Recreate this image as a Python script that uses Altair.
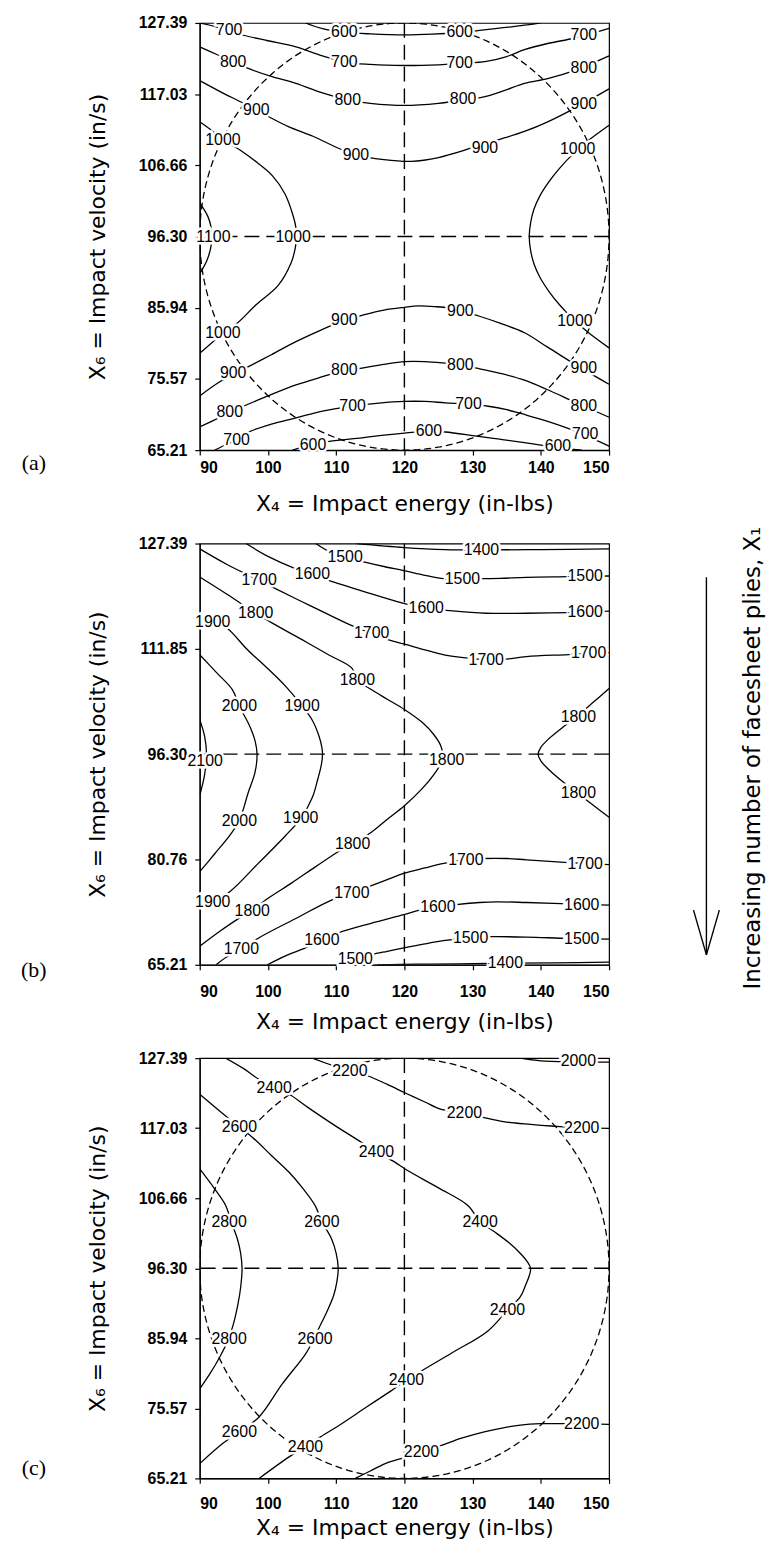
import altair as alt
import numpy as np
import pandas as pd

# ---------------- axes ----------------
X_DOMAIN = [90, 150]
Y_DOMAIN = [65.21, 127.39]
X_TICKS = [90, 100, 110, 120, 130, 140, 150]
Y_TICKS_AC = [65.21, 75.57, 85.94, 96.30, 106.66, 117.03, 127.39]
Y_TICKS_B = [65.21, 80.76, 96.30, 111.85, 127.39]
CENTER_X = 120.0
CENTER_Y = 96.30
CIRCLE_RX = 30.0
CIRCLE_RY = 31.09

X_TITLE = "X\u2084 = Impact energy (in-lbs)"
Y_TITLE = "X\u2086 = Impact velocity (in/s)"
SIDE_TITLE = "Increasing number of facesheet plies, X\u2081"

# ---------------- panel (a) contours ----------------
A_600_TOP = [(105.5, 127.39), (108.0, 126.55), (111.2, 126.05), (115.0, 125.8), (120.0, 125.65), (124.0, 125.75),
             (128.0, 126.0), (131.0, 126.3), (134.5, 126.7), (138.0, 127.1), (140.0, 127.39)]
A_700_TOP = [(90.0, 127.39), (92.5, 126.8), (94.3, 126.3), (96.4, 125.6), (100.0, 124.8), (104.1, 123.9),
             (108.0, 122.6), (111.2, 121.7), (115.0, 121.35), (120.0, 121.2), (125.0, 121.3), (128.5, 121.5),
             (132.0, 121.8), (135.0, 122.5), (137.6, 123.5), (141.0, 124.4), (145.0, 125.2), (150.0, 126.6)]
A_800_TOP = [(90.0, 123.9), (92.5, 122.8), (94.9, 121.7), (97.3, 120.7), (100.5, 119.6), (104.1, 118.6),
             (108.0, 117.2), (111.7, 116.2), (115.0, 115.7), (120.0, 115.4), (125.0, 115.7), (128.6, 116.2),
             (131.5, 116.6), (134.5, 117.5), (137.6, 118.6), (141.0, 119.3), (145.0, 120.5), (150.0, 122.6)]
A_900_TOP = [(90.0, 119.0), (93.0, 117.4), (96.4, 115.7), (98.3, 114.7), (100.2, 113.7), (103.0, 112.3),
             (106.6, 110.9), (110.0, 109.3), (112.9, 108.2), (117.0, 107.5), (121.0, 107.25), (125.0, 107.8),
             (129.9, 109.2), (133.5, 110.3), (137.6, 111.6), (141.0, 113.0), (145.0, 115.0), (150.0, 117.8)]
A_1000_LEFT = [(90.0, 113.0), (91.8, 111.7), (93.4, 110.4), (95.9, 108.9), (98.5, 107.0), (100.7, 105.1),
               (102.5, 102.5), (103.7, 99.3), (104.1, 97.6), (104.2, 96.3), (104.0, 94.6), (103.4, 92.5),
               (101.5, 89.2), (98.3, 86.4), (95.4, 83.6), (93.4, 82.2), (90.0, 79.3)]
A_1000_RIGHT = [(150.0, 112.5), (147.0, 110.3), (144.7, 108.3), (142.8, 106.3), (141.2, 104.3), (139.9, 102.3),
                (139.0, 100.3), (138.5, 98.3), (138.3, 96.3), (138.5, 94.3), (139.0, 92.3), (139.9, 90.3),
                (141.2, 88.3), (142.8, 86.3), (144.7, 84.3), (147.0, 82.3), (150.0, 80.1)]
A_1100 = [(90.0, 101.2), (91.2, 99.2), (91.7, 97.5), (91.8, 96.3), (91.6, 94.6), (91.0, 92.7), (90.0, 90.9)]
A_900_BOT = [(90.0, 73.1), (93.0, 75.2), (97.0, 77.3), (100.5, 79.1), (104.1, 81.0), (108.0, 82.8), (111.2, 84.1),
             (114.0, 84.9), (117.0, 85.6), (120.0, 86.0), (122.0, 86.2), (124.5, 86.1), (126.5, 85.9),
             (128.5, 85.4), (131.0, 84.7), (134.0, 83.7), (137.6, 82.3), (141.0, 80.2), (145.0, 77.7),
             (150.0, 74.8)]
A_800_BOT = [(90.0, 68.6), (93.0, 70.0), (96.4, 71.6), (100.0, 73.1), (104.1, 74.7), (108.0, 75.9), (111.2, 76.8),
             (114.0, 77.2), (117.0, 77.7), (120.0, 78.1), (123.0, 78.1), (125.6, 77.9), (128.2, 77.6),
             (130.8, 77.1), (134.0, 76.4), (137.6, 75.4), (141.0, 74.0), (145.0, 72.2), (150.0, 70.0)]
A_700_BOT = [(92.2, 65.21), (94.0, 66.1), (95.4, 66.75), (97.3, 67.9), (100.5, 69.0), (104.1, 69.9), (108.0, 70.9),
             (112.4, 71.6), (116.3, 72.05), (120.0, 72.3), (123.0, 72.3), (126.0, 72.1), (129.5, 71.9),
             (132.3, 71.6), (135.0, 71.1), (137.6, 70.4), (141.0, 69.4), (145.0, 68.0), (148.0, 66.7),
             (150.0, 65.8)]
A_600_BOT = [(103.6, 65.21), (105.0, 65.6), (106.6, 66.0), (109.0, 66.5), (113.8, 67.0), (117.0, 67.4),
             (120.0, 67.7), (123.6, 67.95), (126.0, 67.85), (130.3, 67.3), (134.0, 66.8), (137.6, 66.3),
             (141.0, 65.8), (144.0, 65.4), (146.0, 65.21)]

A_LABELS = [("700", 94.3, 126.3), ("600", 111.2, 126.05), ("600", 128.1, 126.1), ("700", 146.3, 125.6),
            ("800", 94.9, 121.7), ("700", 111.2, 121.7), ("700", 128.1, 121.55), ("800", 146.3, 120.9),
            ("900", 98.3, 114.7), ("800", 111.7, 116.2), ("800", 128.6, 116.3), ("900", 146.3, 115.6),
            ("1000", 93.4, 110.4), ("900", 112.9, 108.2), ("900", 131.8, 109.2), ("1000", 145.4, 109.0),
            ("1100", 92.0, 96.3), ("1000", 103.7, 96.3),
            ("1000", 93.4, 82.2), ("1000", 145.0, 84.0),
            ("900", 94.9, 76.4), ("900", 111.2, 84.1), ("900", 128.2, 85.4), ("900", 146.3, 77.1),
            ("800", 94.4, 70.7), ("800", 111.2, 76.9), ("800", 128.2, 77.6), ("800", 146.3, 71.7),
            ("700", 95.4, 66.75), ("700", 112.4, 71.6), ("700", 129.4, 71.9), ("700", 146.5, 67.6),
            ("600", 106.6, 66.0), ("600", 123.6, 67.95), ("600", 142.5, 65.8)]

# ---------------- panel (b) contours ----------------
B_1400_TOP = [(113.0, 127.39), (120.0, 126.8), (126.0, 126.5), (131.3, 126.45), (140.0, 126.5), (150.0, 126.6)]
B_1500_TOP = [(107.0, 127.39), (109.0, 126.2), (111.3, 125.4), (114.2, 124.65), (117.0, 124.0), (119.9, 123.4),
              (123.0, 122.7), (125.8, 122.2), (128.5, 122.2), (131.0, 122.2), (134.0, 122.25), (137.9, 122.4),
              (144.0, 122.5), (150.0, 122.6)]
B_1600_TOP = [(96.8, 127.39), (100.0, 125.5), (104.0, 123.7), (106.5, 122.85), (108.9, 121.96), (114.2, 120.26),
              (119.9, 118.54), (123.2, 117.8), (125.8, 117.55), (132.0, 117.1), (137.9, 117.1), (144.0, 117.2),
              (150.0, 117.4)]
B_1700_TOP = [(90.0, 126.6), (94.0, 124.3), (98.7, 121.96), (101.1, 120.74), (105.0, 118.8), (108.9, 116.9),
              (112.7, 115.1), (115.2, 114.15), (117.6, 113.2), (119.9, 112.58), (123.0, 111.7), (125.8, 110.97),
              (129.0, 110.5), (132.0, 110.24), (134.6, 110.3), (137.9, 110.7), (144.0, 111.0), (150.0, 111.3)]
B_1800_LEFT = [(90.0, 122.45), (94.0, 119.9), (98.2, 117.1), (100.7, 115.6), (105.0, 113.2), (109.0, 110.9),
               (112.3, 109.0), (113.1, 107.3), (115.2, 105.8), (117.5, 104.4), (120.0, 102.9), (122.6, 101.0),
               (124.3, 99.2), (125.3, 97.6), (125.6, 96.3), (125.3, 94.9), (124.4, 93.4), (122.5, 91.1),
               (120.0, 88.7), (117.5, 86.7), (115.2, 84.8), (112.5, 83.1), (110.3, 81.9), (107.0, 79.7),
               (103.5, 77.3), (99.7, 74.8), (97.7, 73.2), (95.8, 72.1), (93.0, 70.2), (90.0, 67.95)]
B_1800_RIGHT = [(150.0, 106.0), (147.5, 103.8), (145.3, 101.9), (143.0, 100.1), (141.2, 98.6), (140.0, 97.3),
                (139.6, 96.3), (140.0, 95.3), (141.2, 94.0), (143.0, 92.4), (145.3, 90.6), (147.5, 88.9),
                (150.0, 87.0)]
B_1900 = [(90.0, 116.6), (91.9, 115.9), (93.9, 115.0), (97.0, 111.7), (100.0, 108.9), (102.6, 106.3),
          (105.0, 103.4), (106.5, 101.3), (107.5, 98.9), (107.9, 97.3), (108.0, 96.3), (107.8, 94.6),
          (107.3, 92.6), (106.5, 89.9), (104.8, 86.8), (102.6, 84.3), (98.5, 80.1), (94.4, 76.0),
          (91.9, 74.5), (90.0, 73.6)]
B_2000 = [(90.0, 110.97), (92.5, 108.3), (94.8, 105.8), (95.8, 103.4), (97.3, 100.5), (98.1, 98.3), (98.4, 96.3),
          (98.1, 93.6), (97.1, 90.6), (95.8, 86.5), (94.4, 84.3), (92.2, 81.6), (90.0, 78.95)]
B_2100 = [(90.0, 101.4), (90.7, 99.0), (91.0, 96.3), (90.7, 93.2), (90.0, 90.2)]
B_1700_BOT = [(92.4, 65.21), (94.0, 66.4), (96.1, 67.46), (98.7, 69.2), (104.0, 72.0), (109.4, 74.8),
              (112.3, 75.77), (114.7, 76.7), (117.3, 77.7), (119.9, 78.7), (123.0, 79.5), (125.8, 80.17),
              (129.0, 80.7), (131.6, 80.9), (135.0, 80.9), (137.9, 80.7), (144.0, 80.3), (150.0, 80.0)]
B_1600_BOT = [(99.9, 65.21), (102.5, 66.5), (105.5, 67.7), (107.9, 68.8), (110.3, 69.9), (115.0, 71.3),
              (119.9, 72.6), (122.4, 73.3), (124.9, 73.7), (127.3, 74.06), (131.0, 74.4), (133.6, 74.5),
              (137.9, 74.4), (144.0, 74.2), (150.0, 74.0)]
B_1500_BOT = [(110.3, 65.21), (112.8, 66.0), (115.2, 66.7), (117.5, 67.2), (119.9, 67.7), (123.0, 68.3),
              (126.0, 68.8), (129.7, 69.2), (132.6, 69.35), (137.9, 69.3), (144.0, 69.1), (150.0, 69.0)]
B_1400_BOT = [(116.0, 65.21), (122.0, 65.3), (128.0, 65.35), (134.8, 65.45), (142.0, 65.5), (150.0, 65.6)]

B_LABELS = [("1400", 131.3, 126.46),
            ("1500", 111.3, 125.4), ("1500", 128.5, 122.2), ("1500", 146.5, 122.55),
            ("1700", 98.7, 121.96), ("1600", 106.5, 122.85), ("1600", 123.2, 117.8), ("1600", 146.5, 117.35),
            ("1800", 98.2, 117.1), ("1700", 115.2, 114.15), ("1700", 132.0, 110.24), ("1700", 147.0, 111.2),
            ("1900", 91.9, 115.85), ("1800", 113.1, 107.3),
            ("2000", 95.8, 103.4), ("1900", 105.0, 103.4),
            ("2100", 90.8, 95.3), ("1800", 126.2, 95.5),
            ("1800", 145.5, 101.8), ("1800", 145.5, 90.5),
            ("2000", 95.8, 86.5), ("1900", 104.8, 86.8), ("1800", 112.4, 83.1),
            ("1900", 91.9, 74.5), ("1800", 97.7, 73.2), ("1700", 112.3, 75.77), ("1700", 129.0, 80.7),
            ("1700", 146.5, 80.1),
            ("1700", 96.1, 67.46), ("1600", 107.9, 68.8), ("1600", 124.9, 73.7), ("1600", 146.0, 74.1),
            ("1500", 112.8, 66.0), ("1500", 129.7, 69.2), ("1500", 146.0, 69.05),
            ("1400", 134.8, 65.45)]

# ---------------- panel (c) contours ----------------
C_2000_TOP = [(137.0, 127.39), (140.0, 127.0), (145.0, 126.85), (150.0, 126.8)]
C_2200_TOP = [(106.5, 127.39), (109.5, 126.3), (112.0, 125.5), (114.7, 124.75), (117.5, 123.5), (120.2, 122.2),
              (123.0, 120.9), (125.4, 119.8), (128.8, 119.3), (131.7, 118.6), (134.5, 118.0), (138.5, 117.6),
              (144.0, 117.2), (150.0, 117.0)]
C_2400 = [(93.8, 127.39), (96.5, 125.8), (98.6, 124.3), (100.9, 123.0), (103.1, 122.05), (106.0, 120.0),
          (110.0, 117.3), (113.7, 114.95), (115.9, 113.5), (118.6, 112.0), (120.4, 110.8), (125.0, 108.2),
          (129.3, 105.6), (131.1, 103.2), (133.2, 101.7), (135.3, 100.1), (136.9, 98.6), (138.0, 97.3),
          (138.5, 96.3), (138.3, 95.2), (137.8, 93.9), (137.0, 92.1), (135.1, 90.1), (132.2, 87.0),
          (127.0, 83.8), (122.5, 81.1), (120.3, 79.7), (118.1, 78.2), (114.5, 75.8), (110.8, 73.3),
          (107.7, 71.35), (105.5, 69.9), (103.1, 68.4), (98.7, 65.21)]
C_2600 = [(90.0, 122.05), (93.0, 119.5), (95.8, 117.2), (97.7, 115.7), (100.5, 113.0), (103.1, 110.5),
          (105.2, 108.0), (106.9, 105.6), (107.9, 103.2), (109.3, 100.7), (110.0, 98.5), (110.3, 96.3),
          (110.1, 94.3), (109.6, 92.2), (108.6, 89.8), (107.5, 87.5), (106.7, 85.8), (105.5, 83.6),
          (102.1, 79.2), (98.7, 74.3), (95.8, 72.1), (93.4, 70.4), (90.0, 67.4)]
C_2800 = [(90.0, 111.0), (92.0, 108.3), (93.8, 105.6), (94.6, 103.2), (95.5, 100.7), (96.0, 98.5), (96.2, 96.3),
          (96.0, 93.5), (95.6, 91.0), (95.0, 88.3), (94.2, 85.8), (92.9, 83.1), (91.5, 80.7), (90.0, 78.45)]
C_2200_BOT = [(112.8, 65.21), (115.0, 66.3), (117.2, 67.4), (120.0, 68.3), (122.5, 69.1), (125.4, 70.1),
              (128.5, 71.2), (131.7, 72.1), (134.5, 72.7), (137.0, 73.1), (140.0, 73.3), (145.0, 73.3),
              (150.0, 73.2)]

C_LABELS = [("2000", 145.5, 126.9), ("2200", 112.0, 125.5), ("2400", 100.9, 123.0), ("2200", 128.8, 119.3),
            ("2200", 146.0, 117.1), ("2600", 95.8, 117.2), ("2400", 115.9, 113.5), ("2800", 94.3, 103.2),
            ("2600", 107.9, 103.2), ("2400", 131.1, 103.2), ("2400", 135.1, 90.1), ("2800", 94.3, 85.8),
            ("2600", 106.9, 85.8), ("2400", 120.3, 79.7), ("2600", 95.8, 72.1), ("2400", 105.5, 69.9),
            ("2200", 122.5, 69.1), ("2200", 146.0, 73.3)]


# ---------------- helpers ----------------
def contour_frame(contours):
    rows = []
    for name, pts in contours.items():
        for i, (x, y) in enumerate(pts):
            rows.append({"seg": name, "i": i, "x": x, "y": y})
    return pd.DataFrame(rows)


def label_frame(labels):
    return pd.DataFrame(labels, columns=["t", "x", "y"])


def circle_frame():
    ang = np.linspace(0, 2 * np.pi, 181)
    return pd.DataFrame({"x": CENTER_X + CIRCLE_RX * np.cos(ang),
                         "y": CENTER_Y + CIRCLE_RY * np.sin(ang),
                         "i": np.arange(len(ang))})


XS = alt.Scale(domain=X_DOMAIN, nice=False, zero=False)
YS = alt.Scale(domain=Y_DOMAIN, nice=False, zero=False)
FONT = "Liberation Sans"
TFONT = "DejaVu Sans"


def panel(contours, labels, yticks, circle, letter, h, lab_pad, tit_pad, letter_dy, extra=None):
    xax = alt.Axis(values=X_TICKS, format="d", title=X_TITLE, labelPadding=lab_pad, titlePadding=tit_pad)
    yax = alt.Axis(values=yticks, format=".2f", title=Y_TITLE, labelPadding=8, titlePadding=29)
    X = alt.X("x:Q", scale=XS, axis=xax)
    Y = alt.Y("y:Q", scale=YS, axis=yax)

    layers = []
    layers.append(alt.Chart(contour_frame(contours)).mark_line(
        color="black", strokeWidth=1.3, interpolate="catmull-rom", clip=True
    ).encode(x=X, y=Y, detail="seg:N", order="i:Q"))
    if circle:
        layers.append(alt.Chart(circle_frame()).mark_line(
            color="black", strokeWidth=1.3, strokeDash=[7, 4], clip=True
        ).encode(x=X, y=Y, order="i:Q"))
    layers.append(alt.Chart(pd.DataFrame({"x": [CENTER_X]})).mark_rule(
        color="black", strokeWidth=1.4, strokeDash=[15, 7]).encode(x=X))
    layers.append(alt.Chart(pd.DataFrame({"y": [CENTER_Y]})).mark_rule(
        color="black", strokeWidth=1.4, strokeDash=[15, 7]).encode(y=Y))
    lab = label_frame(labels)
    layers.append(alt.Chart(lab).mark_text(
        font=FONT, fontSize=16, color="white", stroke="white", strokeWidth=5
    ).encode(x=X, y=Y, text="t:N"))
    layers.append(alt.Chart(lab).mark_text(
        font=FONT, fontSize=16, color="black"
    ).encode(x=X, y=Y, text="t:N"))
    layers.append(alt.Chart(pd.DataFrame({"t": [letter]})).mark_text(
        font="Liberation Serif", fontSize=22, color="black"
    ).encode(x=alt.value(-167), y=alt.value(h + letter_dy), text="t:N"))
    if extra:
        layers.extend(extra)
    return alt.layer(*layers).properties(width=412, height=h)


# side arrow + rotated caption (drawn next to panel b)
one = pd.DataFrame({"t": [SIDE_TITLE]})
arrow_layers = [
    alt.Chart(one).mark_rule(color="black", strokeWidth=1.4).encode(
        x=alt.value(510), x2=alt.value(510), y=alt.value(34), y2=alt.value(414)),
    alt.Chart(one).mark_rule(color="black", strokeWidth=1.4).encode(
        x=alt.value(497), x2=alt.value(510), y=alt.value(369), y2=alt.value(414)),
    alt.Chart(one).mark_rule(color="black", strokeWidth=1.4).encode(
        x=alt.value(523), x2=alt.value(510), y=alt.value(369), y2=alt.value(414)),
    alt.Chart(one).mark_text(font=TFONT, fontSize=23, angle=270, color="black").encode(
        x=alt.value(557), y=alt.value(216), text="t:N"),
]

A_CONTOURS = {"a600t": A_600_TOP, "a700t": A_700_TOP, "a800t": A_800_TOP, "a900t": A_900_TOP,
              "a1000l": A_1000_LEFT, "a1000r": A_1000_RIGHT, "a1100": A_1100,
              "a900b": A_900_BOT, "a800b": A_800_BOT, "a700b": A_700_BOT, "a600b": A_600_BOT}
B_CONTOURS = {"b1400t": B_1400_TOP, "b1500t": B_1500_TOP, "b1600t": B_1600_TOP, "b1700t": B_1700_TOP,
              "b1800l": B_1800_LEFT, "b1800r": B_1800_RIGHT, "b1900": B_1900, "b2000": B_2000,
              "b2100": B_2100, "b1700b": B_1700_BOT, "b1600b": B_1600_BOT, "b1500b": B_1500_BOT,
              "b1400b": B_1400_BOT}
C_CONTOURS = {"c2000t": C_2000_TOP, "c2200t": C_2200_TOP, "c2400": C_2400, "c2600": C_2600,
              "c2800": C_2800, "c2200b": C_2200_BOT}

pa = panel(A_CONTOURS, A_LABELS, Y_TICKS_AC, True, "(a)", 430, 4, 19, 13)
pb = panel(B_CONTOURS, B_LABELS, Y_TICKS_B, False, "(b)", 424, 14, 12, 5, extra=arrow_layers)
pc = panel(C_CONTOURS, C_LABELS, Y_TICKS_AC, True, "(c)", 423, 12, 6, -10)

chart = alt.vconcat(pa, pb, pc, spacing=94, bounds="flush").properties(
    padding={"left": 12, "top": 1, "right": 4, "bottom": 4}
).configure_view(
    stroke="black", strokeWidth=1.2
).configure_axis(
    grid=False, domainColor="black", domainWidth=1.2, tickColor="black", tickWidth=1.2, tickSize=5,
    labelColor="black", titleColor="black", labelFont=FONT, titleFont=TFONT,
    labelFontSize=16, labelFontWeight="bold", titleFontSize=22, titleFontWeight="normal"
)

chart.save("out.html", embed_options={"renderer": "svg", "actions": False})
